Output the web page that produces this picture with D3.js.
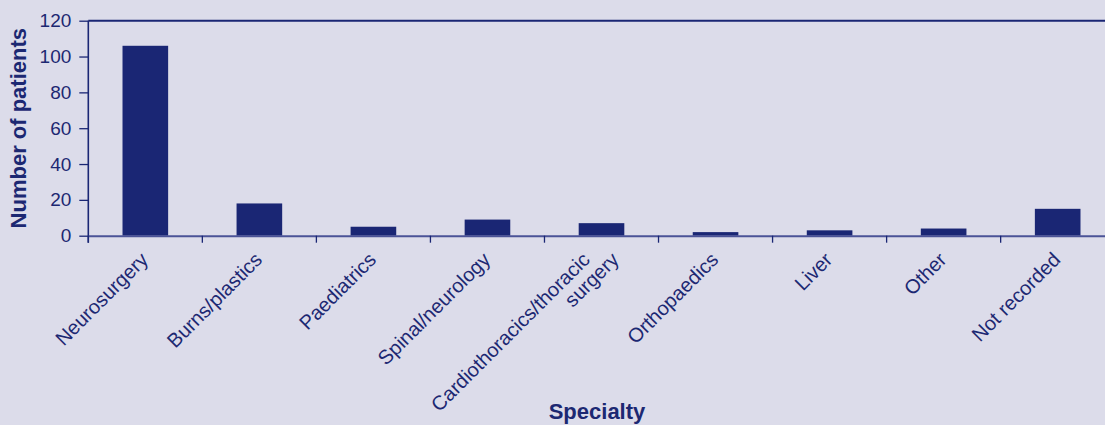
<!DOCTYPE html>
<html>
<head>
<meta charset="utf-8">
<script src="https://cdn.jsdelivr.net/npm/d3@7"></script>
<style>
  html, body { margin: 0; padding: 0; background: #dcdcea; }
  svg { display: block; font-family: "Liberation Sans", Arial, sans-serif; }
</style>
</head>
<body>
<svg id="chart" width="1105" height="425"></svg>
<script>
const categories = ["Neurosurgery", "Burns/plastics", "Paediatrics", "Spinal/neurology",
  "Cardiothoracics/thoracic\nsurgery", "Orthopaedics", "Liver", "Other", "Not recorded"];
const patients = [106, 18, 5, 9, 7, 2, 3, 4, 15];
const yTicks = [0, 20, 40, 60, 80, 100, 120];
const yTitle = "Number of patients";
const xTitle = "Specialty";

(function () {
const W = 1105, H = 425;
const pLeft = 88.3, pRight = 1114.7, pTop = 20.7, pBottom = 235.7;
const ink = "#1c2872", barCol = "#1a2674", axisCol = "#4b5397";

const svg = d3.select("#chart");
svg.append("rect").attr("width", W).attr("height", H).attr("fill", "#dcdcea");

const x = d3.scaleBand().domain(categories).range([pLeft, pRight])
  .paddingInner(0.6).paddingOuter(0.3);
const y = d3.scaleLinear().domain([0, 120]).range([pBottom, pTop]);

// top border line
svg.append("line").attr("x1", pLeft).attr("x2", pRight)
  .attr("y1", y(120)).attr("y2", y(120))
  .attr("stroke", barCol).attr("stroke-width", 2);

// bars
svg.selectAll("rect.bar").data(categories).enter().append("rect")
  .attr("class", "bar")
  .attr("x", d => x(d))
  .attr("width", x.bandwidth())
  .attr("y", (d, i) => y(patients[i]))
  .attr("height", (d, i) => y(0) - y(patients[i]))
  .attr("fill", barCol);

// y axis
const yAxis = d3.axisLeft(y).tickValues(yTicks).tickSize(9).tickPadding(8);
const gy = svg.append("g").attr("transform", `translate(${pLeft},0)`).call(yAxis);
gy.select(".domain").remove();
gy.selectAll(".tick line").attr("stroke", barCol).attr("stroke-width", 1.3);
gy.selectAll(".tick text").attr("fill", ink).style("font-size", "19px")
  .style("font-family", "Liberation Sans, Arial, sans-serif");
svg.append("line").attr("x1", pLeft).attr("x2", pLeft)
  .attr("y1", pTop).attr("y2", pBottom + 7)
  .attr("stroke", barCol).attr("stroke-width", 1.6);

// x axis line
const xAxis = d3.axisBottom(x).tickSize(0).tickFormat("");
const gx = svg.append("g").attr("transform", `translate(0,${pBottom})`).call(xAxis);
gx.select(".domain").attr("stroke", axisCol).attr("stroke-width", 2);
gx.selectAll(".tick").remove();

// category boundary ticks
const bounds = d3.range(categories.length + 1).map(i => x.range()[0] + i * x.step());
svg.selectAll("line.xtick").data(bounds).enter().append("line")
  .attr("class", "xtick")
  .attr("x1", d => d).attr("x2", d => d)
  .attr("y1", pBottom).attr("y2", pBottom + 7)
  .attr("stroke", barCol).attr("stroke-width", 1.3);

// category labels rotated
const lab = svg.append("g");
categories.forEach(c => {
  const cx = x(c) + x.bandwidth() / 2;
  const lines = c.split("\n");
  const n = lines.length;
  lines.forEach((ln, j) => {
    const off = (j - (n - 1) / 2) * 29;
    lab.append("text")
      .attr("transform", `translate(${cx + 4 + off},261) rotate(-45)`)
      .attr("text-anchor", "end")
      .attr("fill", ink)
      .style("font-size", "20px")
      .text(ln);
  });
});

// titles
svg.append("text")
  .attr("transform", `translate(26,${(pTop + pBottom) / 2}) rotate(-90)`)
  .attr("text-anchor", "middle")
  .attr("fill", ink).style("font-size", "22px").style("font-weight", "bold")
  .text(yTitle);
svg.append("text")
  .attr("x", 597).attr("y", 419)
  .attr("text-anchor", "middle")
  .attr("fill", ink).style("font-size", "22px").style("font-weight", "bold")
  .text(xTitle);
})();
</script>
</body>
</html>
